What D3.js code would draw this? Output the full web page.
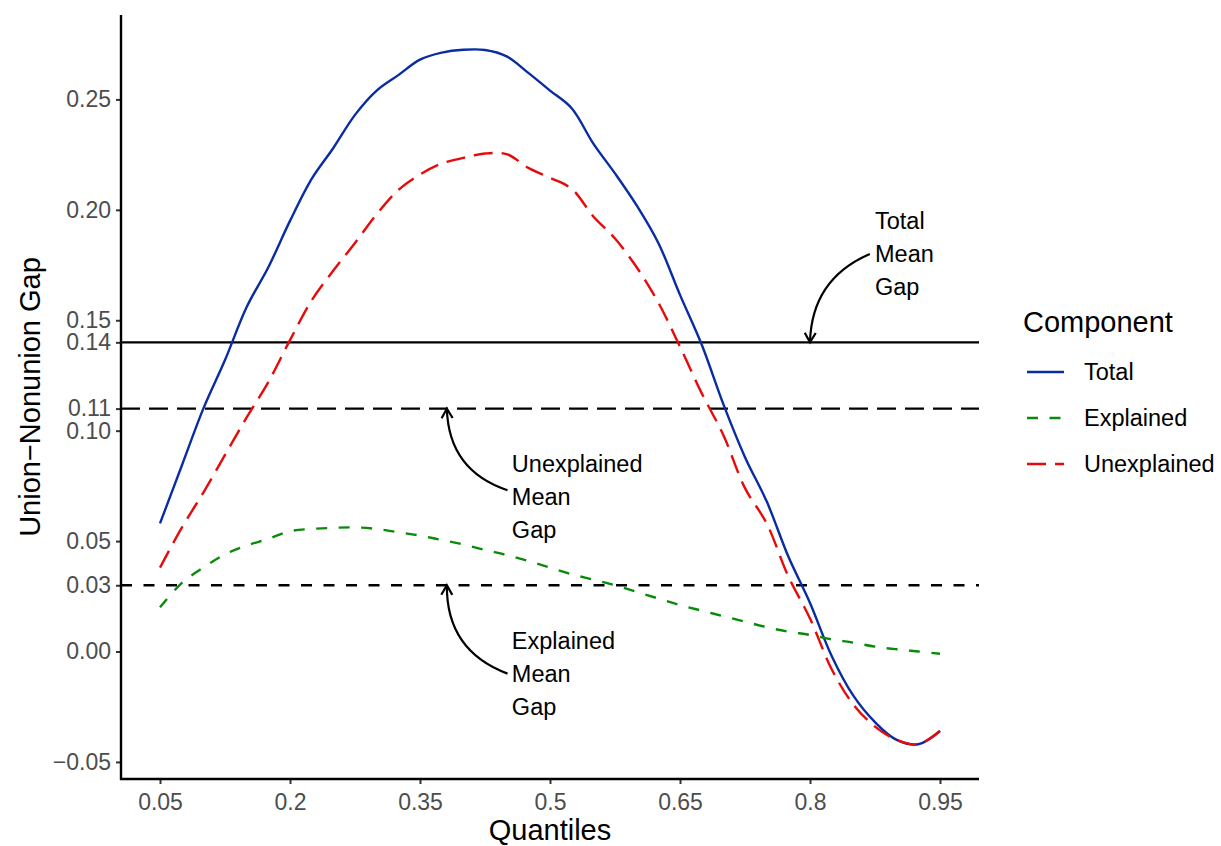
<!DOCTYPE html>
<html>
<head>
<meta charset="utf-8">
<script src="https://cdn.jsdelivr.net/npm/d3@7"></script>
<style>
  body { margin: 0; background: #fff; }
  svg text { font-family: "Liberation Sans", Arial, sans-serif; }
</style>
</head>
<body>
<svg id="chart"></svg>
<script>
// Quantiles and the three components
const quantiles = d3.range(0, 37).map(i => +(0.05 + i * 0.025).toFixed(3));
const total = [0.058, 0.084, 0.110, 0.132, 0.156, 0.174, 0.195, 0.214, 0.228, 0.243,
  0.254, 0.261, 0.268, 0.2712, 0.2725, 0.2724, 0.2695, 0.262, 0.254, 0.246,
  0.230, 0.2165, 0.202, 0.185, 0.1615, 0.139, 0.112, 0.088, 0.068, 0.043,
  0.022, -0.002, -0.020, -0.032, -0.040, -0.042, -0.036];
const explained = [0.020, 0.031, 0.038, 0.044, 0.048, 0.051, 0.0545, 0.0555, 0.056, 0.0562,
  0.0555, 0.054, 0.0525, 0.0505, 0.0485, 0.046, 0.0437, 0.041, 0.038, 0.035,
  0.0325, 0.030, 0.027, 0.024, 0.021, 0.0185, 0.016, 0.0135, 0.011, 0.009,
  0.0075, 0.0055, 0.004, 0.0022, 0.001, 0.0, -0.001];
const unexplained = [0.038, 0.056, 0.072, 0.089, 0.106, 0.122, 0.141, 0.159, 0.1725, 0.185,
  0.198, 0.209, 0.216, 0.221, 0.2235, 0.2255, 0.2252, 0.219, 0.2145, 0.2095,
  0.197, 0.187, 0.174, 0.158, 0.138, 0.117, 0.098, 0.074, 0.058, 0.034,
  0.015, -0.008, -0.024, -0.034, -0.040, -0.042, -0.036];

// Mean gaps (horizontal reference lines)
const meanGaps = [
  { name: "Total", value: 0.14, dash: null },
  { name: "Unexplained", value: 0.11, dash: "19 9" },
  { name: "Explained", value: 0.03, dash: "11 11.5" }
];

// Axis ticks
const xTicks = [0.05, 0.2, 0.35, 0.5, 0.65, 0.8, 0.95];
const xTickLabels = ["0.05", "0.2", "0.35", "0.5", "0.65", "0.8", "0.95"];
const yTicks = [-0.05, 0, 0.03, 0.05, 0.10, 0.11, 0.14, 0.15, 0.20, 0.25];
const yTickLabels = ["\u22120.05", "0.00", "0.03", "0.05", "0.10", "0.11", "0.14", "0.15", "0.20", "0.25"];

// Annotations: text block (left x, middle line y) and curved arrow (from -> to)
const notes = [
  { lines: ["Total", "Mean", "Gap"], tx: 0.875, ty: 0.18, x0: 0.869, y0: 0.18, x1: 0.80, y1: 0.14, curv: 0.32 },
  { lines: ["Unexplained", "Mean", "Gap"], tx: 0.456, ty: 0.070, x0: 0.451, y0: 0.073, x1: 0.381, y1: 0.11, curv: -0.35 },
  { lines: ["Explained", "Mean", "Gap"], tx: 0.456, ty: -0.010, x0: 0.451, y0: -0.010, x1: 0.381, y1: 0.03, curv: -0.35 }
];

const series = [
  { name: "Total", values: total, color: "#0A2CA3", dash: null },
  { name: "Explained", values: explained, color: "#0A8A0A", dash: "11 11.5" },
  { name: "Unexplained", values: unexplained, color: "#E80A0A", dash: "19 9" }
];

(() => {
  const width = 1221, height = 846;
  const pLeft = 121, pRight = 979, pTop = 15, pBottom = 779;

  const svg = d3.select("#chart").attr("width", width).attr("height", height);

  // scales with ggplot-like 5% expansion
  const xMin = d3.min(quantiles), xMax = d3.max(quantiles);
  const xPad = (xMax - xMin) * 0.05;
  const x = d3.scaleLinear().domain([xMin - xPad, xMax + xPad]).range([pLeft, pRight]);

  const allVals = total.concat(explained, unexplained);
  const yMin = d3.min(allVals), yMax = d3.max(allVals);
  const yPad = (yMax - yMin) * 0.05;
  const y = d3.scaleLinear().domain([yMin - yPad, yMax + yPad]).range([pBottom, pTop]);

  // reference lines
  svg.append("g").selectAll("line")
    .data(meanGaps)
    .join("line")
    .attr("x1", pLeft).attr("x2", pRight)
    .attr("y1", d => y(d.value)).attr("y2", d => y(d.value))
    .attr("stroke", "#000")
    .attr("stroke-width", 2.4)
    .attr("stroke-dasharray", d => d.dash);

  // component lines
  const line = d3.line()
    .x((d, i) => x(quantiles[i]))
    .y(d => y(d))
    .curve(d3.curveCatmullRom.alpha(0.5));

  svg.append("g").selectAll("path")
    .data(series)
    .join("path")
    .attr("d", d => line(d.values))
    .attr("fill", "none")
    .attr("stroke", d => d.color)
    .attr("stroke-width", 2.4)
    .attr("stroke-dasharray", d => d.dash);

  // axes
  const xAxis = svg.append("g")
    .attr("transform", `translate(0,${pBottom})`)
    .call(d3.axisBottom(x).tickValues(xTicks).tickSize(5).tickPadding(6)
      .tickFormat((d, i) => xTickLabels[i]));
  const yAxis = svg.append("g")
    .attr("transform", `translate(${pLeft},0)`)
    .call(d3.axisLeft(y).tickValues(yTicks).tickSize(5).tickPadding(5)
      .tickFormat((d, i) => yTickLabels[i]));

  [xAxis, yAxis].forEach(a => {
    a.select(".domain").remove();
    a.selectAll(".tick line").attr("stroke", "#333").attr("stroke-width", 2);
    a.selectAll(".tick text").attr("fill", "#4D4D4D").style("font-size", "23px");
  });
  xAxis.selectAll(".tick text").attr("dy", "0.86em");

  svg.append("line").attr("x1", pLeft).attr("x2", pLeft).attr("y1", pTop).attr("y2", pBottom + 1)
    .attr("stroke", "#000").attr("stroke-width", 2.4);
  svg.append("line").attr("x1", pLeft - 1).attr("x2", pRight).attr("y1", pBottom).attr("y2", pBottom)
    .attr("stroke", "#000").attr("stroke-width", 2.4);

  // axis titles
  svg.append("text")
    .attr("x", (pLeft + pRight) / 2).attr("y", 840)
    .attr("text-anchor", "middle")
    .style("font-size", "29px")
    .text("Quantiles");
  svg.append("text")
    .attr("transform", `translate(30,${(pTop + pBottom) / 2}) rotate(-90)`)
    .attr("text-anchor", "middle")
    .attr("dy", "0.35em")
    .style("font-size", "29px")
    .text("Union\u2212Nonunion Gap");

  // annotations
  const ann = svg.append("g");
  notes.forEach(n => {
    const sx = x(n.x0), sy = y(n.y0), ex = x(n.x1), ey = y(n.y1);
    const dx = ex - sx, dy = ey - sy;
    const cx = (sx + ex) / 2 + n.curv * -dy, cy = (sy + ey) / 2 + n.curv * dx;
    ann.append("path")
      .attr("d", `M${sx},${sy}Q${cx},${cy} ${ex},${ey}`)
      .attr("fill", "none").attr("stroke", "#000").attr("stroke-width", 2.2);
    // open arrow head
    const ang = Math.atan2(ey - cy, ex - cx);
    const len = 11, spread = Math.PI / 6;
    const p1 = [ex - len * Math.cos(ang - spread), ey - len * Math.sin(ang - spread)];
    const p2 = [ex - len * Math.cos(ang + spread), ey - len * Math.sin(ang + spread)];
    ann.append("path")
      .attr("d", `M${p1}L${ex},${ey}L${p2}`)
      .attr("fill", "none").attr("stroke", "#000").attr("stroke-width", 2.2);

    ann.append("g").selectAll("text")
      .data(n.lines)
      .join("text")
      .attr("x", x(n.tx))
      .attr("y", (d, i) => y(n.ty) + (i - 1) * 33)
      .attr("dy", "0.35em")
      .style("font-size", "23.5px")
      .text(d => d);
  });

  // legend
  const legend = svg.append("g").attr("transform", "translate(1023,0)");
  legend.append("text").attr("x", 0).attr("y", 332)
    .style("font-size", "29px").text("Component");
  const items = legend.selectAll("g.item")
    .data(series)
    .join("g")
    .attr("class", "item")
    .attr("transform", (d, i) => `translate(0,${372 + i * 46})`);
  items.append("line")
    .attr("x1", 4).attr("x2", 41)
    .attr("stroke", d => d.color).attr("stroke-width", 2.4)
    .attr("stroke-dasharray", d => d.dash);
  items.append("text")
    .attr("x", 61).attr("dy", "0.35em")
    .style("font-size", "23.5px")
    .text(d => d.name);
})();
</script>
</body>
</html>
